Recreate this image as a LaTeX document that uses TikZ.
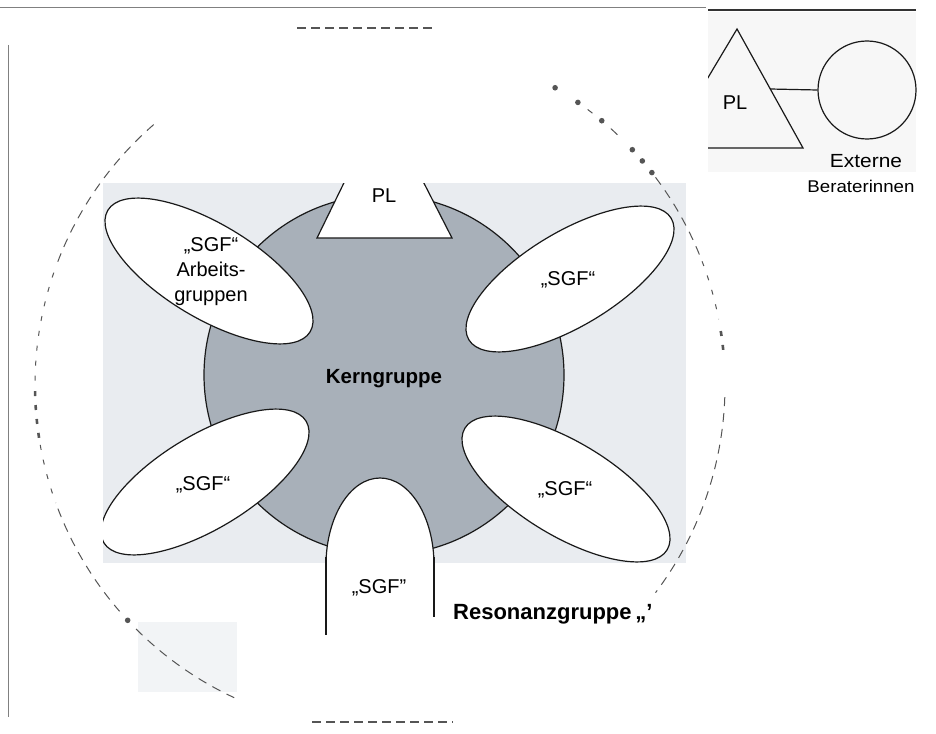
\documentclass[tikz,border=0pt]{standalone}
\usepackage{fontspec}
\setmainfont{Liberation Sans}
\newfontfamily\widefont[FakeStretch=1.1]{Liberation Sans}
\definecolor{bgpanel}{HTML}{E9ECF0}
\definecolor{kern}{HTML}{A8B0B9}
\definecolor{dashgray}{HTML}{555555}
\begin{document}
\begin{tikzpicture}[x=1pt,y=-1pt,
  outline/.style={draw=black!90, line width=1.2pt},
  sgf/.style={outline, fill=white},
  lbl/.style={font=\fontsize{20}{25}\selectfont, align=center, inner sep=0pt},
  boldlbl/.style={font=\fontsize{20.5}{24}\selectfont\bfseries, inner sep=0pt},
  resdash/.style={draw=dashgray, line width=1pt, dash pattern=on 9pt off 7pt},
  sparse/.style={draw=dashgray, line width=1pt, dash pattern=on 5pt off 10pt},
  tick/.style={draw=dashgray, line width=2.6pt, dash pattern=on 5pt off 9pt},
  dotmark/.style={fill=dashgray},
]
\useasboundingbox (0,0) rectangle (936,733);
% frame lines
\draw[gray, line width=0.8pt] (0,7) -- (706,7);
\draw[black!80, line width=1.3pt] (708,10) -- (916,10);
\draw[gray, line width=0.9pt] (8,45) -- (8,717);
% dashed fragments top and bottom
\draw[dashgray, line width=2pt, dash pattern=on 9pt off 5pt] (297,28) -- (432,28);
\draw[dashgray, line width=1.5pt, dash pattern=on 9pt off 5pt] (312,722) -- (453,722);
% main panel
\fill[bgpanel] (103,183) rectangle (686,563);
\fill[bgpanel!60] (138,622) rectangle (237,692);
\begin{scope}
  \clip (103,183) rectangle (686,563);
  \draw[outline, fill=kern] (384,375) circle[radius=180];
  \draw[sgf] (317,238) -- (383,103) -- (452,238) -- cycle;
  \draw[sgf, rotate around={-31:(209,271)}] (209,271) ellipse[x radius=118, y radius=47];
  \draw[sgf, rotate around={31:(570,279)}] (570,279) ellipse[x radius=118, y radius=47];
  \draw[sgf, rotate around={31:(205,482)}] (205,482) ellipse[x radius=118, y radius=47];
  \draw[sgf, rotate around={-31:(566,489)}] (566,489) ellipse[x radius=118, y radius=47];
  \draw[sgf] (380,565) ellipse[x radius=54, y radius=87];
\end{scope}
\draw[outline] (326,557) -- (326,635);
\draw[outline] (434,557) -- (434,617);
% labels
\node[lbl] (pl) at (384,196) {PL};
\node[boldlbl] (kern) at (384,379) {Kerngruppe};
\node[lbl] (sgf1) at (211,272) {„SGF“\\Arbeits-\\gruppen};
\node[lbl] (sgf2) at (568,280) {„SGF“};
\node[lbl] (sgf3) at (203,485) {„SGF“};
\node[lbl] (sgf4) at (565,490) {„SGF“};
\node[lbl] (sgf5) at (379,588) {„SGF"};
\node[boldlbl, font=\fontsize{22}{26}\selectfont\bfseries, anchor=west] (reso) at (453,614) {Resonanzgruppe\,„'};
% Resonanzgruppe dashed circle
\coordinate (rc) at (380,385);
\draw[resdash] (rc) ++(-131:345) arc[start angle=-131, end angle=-160, radius=345];
\draw[sparse] (rc) ++(-161:345) arc[start angle=-161, end angle=-180, radius=345];
\draw[tick] (rc) ++(-181:345) arc[start angle=-181, end angle=-189, radius=345];
\draw[sparse] (rc) ++(-190:345) arc[start angle=-190, end angle=-200, radius=345];
\draw[resdash] (rc) ++(-201:345) arc[start angle=-201, end angle=-221, radius=345];
\fill[dotmark] (rc) ++(-223:345) circle[radius=2.8];
\draw[resdash] (rc) ++(-225:345) arc[start angle=-225, end angle=-245, radius=345];
\foreach \a in {-59.5,-55,-50,-43,-40.5,-38}{
  \fill[dotmark] (rc) ++(\a:345) circle[radius=2.8];
}
\draw[resdash] (rc) ++(-53:345) arc[start angle=-53, end angle=-52, radius=345];
\draw[resdash] (rc) ++(-48:345) arc[start angle=-48, end angle=-45.5, radius=345];
\draw[resdash] (rc) ++(-37:345) arc[start angle=-37, end angle=-22, radius=345];
\draw[sparse] (rc) ++(-21:345) arc[start angle=-21, end angle=-11, radius=345];
\draw[tick] (rc) ++(-9:345) arc[start angle=-9, end angle=-5, radius=345];
\draw[resdash] (rc) ++(2:345) arc[start angle=2, end angle=37, radius=345];
% inset: PL and external consultants
\fill[black!3] (708,12) rectangle (916,172);
\begin{scope}
  \clip (708,0) rectangle (936,733);
  \draw[outline] (737,29) -- (803,148) -- (666,148) -- cycle;
\end{scope}
\node[circle, outline, minimum size=98pt, inner sep=0pt] (ext) at (867,90) {};
\coordinate (tri) at (770,89);
\draw[outline] (tri) -- (ext.west);
\node[lbl] (pl2) at (735,103) {PL};
\node[font=\widefont\fontsize{19}{22}\selectfont, inner sep=0pt] (externe) at (866,161) {Externe};
\node[font=\widefont\fontsize{17}{20}\selectfont, inner sep=0pt] (berater) at (861,186) {Beraterinnen};
\end{tikzpicture}
\end{document}
